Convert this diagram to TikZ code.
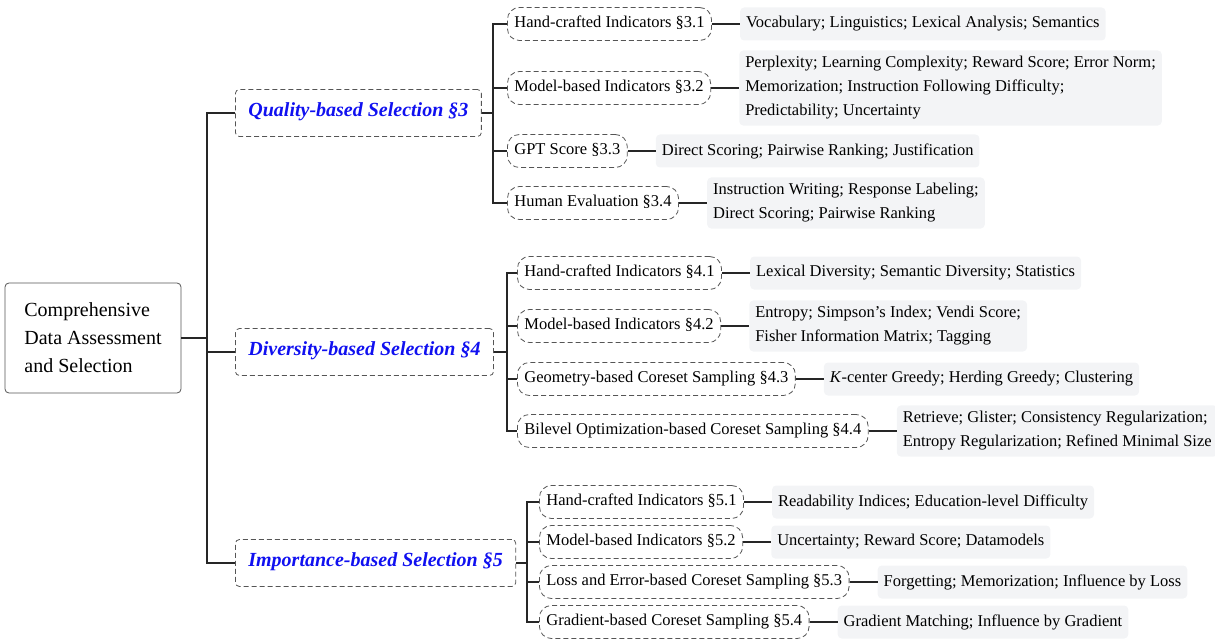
\documentclass[tikz,border=0pt]{standalone}
\usepackage{fontspec}
\setmainfont{Liberation Serif}[Ligatures=TeX]
\usepackage{xcolor}
\definecolor{secblue}{RGB}{16,16,240}
\definecolor{leafgray}{RGB}{243,244,246}
\definecolor{dashgray}{RGB}{85,85,85}
\usetikzlibrary{positioning}

\begin{document}
\begin{tikzpicture}[x=1pt, y=-1pt,
    link/.style={line width=1.4pt, draw=black!85},
    rootbox/.style={draw=dashgray, line width=0.8pt, rounded corners=4pt, align=left,
      inner xsep=19pt, minimum width=176pt, minimum height=110pt,
      font=\fontsize{20}{28}\selectfont},
    secbox/.style={draw=dashgray, dash pattern=on 5pt off 3pt, line width=0.8pt,
      rounded corners=4pt, minimum height=47pt, inner xsep=13pt, anchor=west,
      text height=0.8em, text depth=0.1em,
      text=secblue, font=\fontsize{20}{24}\selectfont\bfseries\itshape},
    subbox/.style={draw=dashgray, dash pattern=on 5pt off 3pt, line width=0.8pt,
      rounded corners=12pt, minimum height=33pt, inner xsep=7pt, anchor=west,
      text height=0.8em, text depth=0.1em,
      font=\fontsize{16.5}{24}\selectfont},
    leaf/.style={fill=leafgray, rounded corners=4pt, align=left, minimum height=33pt,
      inner xsep=6pt, inner ysep=6pt, font=\fontsize{16.5}{24}\selectfont,
      right=28pt of #1}
  ]

  \useasboundingbox (0,0) rectangle (1215,639);

  \node[rootbox] (root) at (93,338) {Comprehensive\\Data Assessment\\and Selection};

  % Quality
  \node[secbox] (qual) at (235,113) {Quality-based Selection §3};
  \node[subbox] (qual1) at (507,24) {Hand-crafted Indicators §3.1};
  \node[subbox] (qual2) at (507,88) {Model-based Indicators §3.2};
  \node[subbox] (qual3) at (507,151) {GPT Score §3.3};
  \node[subbox] (qual4) at (507,203) {Human Evaluation §3.4};
  \node[leaf=qual1] (lqual1) {Vocabulary; Linguistics; Lexical Analysis; Semantics};
  \node[leaf=qual2] (lqual2) {Perplexity; Learning Complexity; Reward Score; Error Norm;\\
    Memorization; Instruction Following Difficulty;\\Predictability; Uncertainty};
  \node[leaf=qual3] (lqual3) {Direct Scoring; Pairwise Ranking; Justification};
  \node[leaf=qual4] (lqual4) {Instruction Writing; Response Labeling;\\Direct Scoring; Pairwise Ranking};

  % Diversity
  \node[secbox] (div) at (235,352) {Diversity-based Selection §4};
  \node[subbox] (div1) at (517,273) {Hand-crafted Indicators §4.1};
  \node[subbox] (div2) at (517,326) {Model-based Indicators §4.2};
  \node[subbox] (div3) at (517,379) {Geometry-based Coreset Sampling §4.3};
  \node[subbox] (div4) at (517,431) {Bilevel Optimization-based Coreset Sampling §4.4};
  \node[leaf=div1] (ldiv1) {Lexical Diversity; Semantic Diversity; Statistics};
  \node[leaf=div2] (ldiv2) {Entropy; Simpson's Index; Vendi Score;\\Fisher Information Matrix; Tagging};
  \node[leaf=div3] (ldiv3) {\textit{K}-center Greedy; Herding Greedy; Clustering};
  \node[leaf=div4] (ldiv4) {Retrieve; Glister; Consistency Regularization;\\Entropy Regularization; Refined Minimal Size};

  % Importance
  \node[secbox] (imp) at (235,563) {Importance-based Selection §5};
  \node[subbox] (imp1) at (539,502) {Hand-crafted Indicators §5.1};
  \node[subbox] (imp2) at (539,542) {Model-based Indicators §5.2};
  \node[subbox] (imp3) at (539,582) {Loss and Error-based Coreset Sampling §5.3};
  \node[subbox] (imp4) at (539,622) {Gradient-based Coreset Sampling §5.4};
  \node[leaf=imp1] (limp1) {Readability Indices; Education-level Difficulty};
  \node[leaf=imp2] (limp2) {Uncertainty; Reward Score; Datamodels};
  \node[leaf=imp3] (limp3) {Forgetting; Memorization; Influence by Loss};
  \node[leaf=imp4] (limp4) {Gradient Matching; Influence by Gradient};

  % connectors
  \coordinate (fork) at (207,338);
  \coordinate (qualfork) at (493,113);
  \coordinate (divfork) at (507,352);
  \coordinate (impfork) at (527,563);
  \foreach \s in {qual,div,imp} {
    \draw[link] (root.east) -- (fork) |- (\s.west);
    \foreach \i in {1,...,4} {
      \draw[link] (\s.east) -- (\s fork) |- (\s\i.west);
      \draw[link] (\s\i.east) -- (l\s\i.west);
    }
  }

\end{tikzpicture}
\end{document}
